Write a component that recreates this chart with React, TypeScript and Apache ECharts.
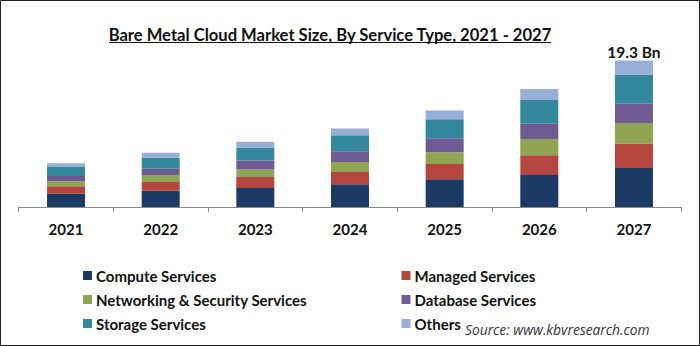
import React, { useEffect, useRef } from "react";
import * as echarts from "echarts";

const years = ["2021", "2022", "2023", "2024", "2025", "2026", "2027"];
const compute = [1.76, 2.15, 2.51, 3.0, 3.66, 4.23, 5.16];
const managed = [0.97, 1.15, 1.45, 1.63, 2.02, 2.6, 3.23];
const networking = [0.66, 0.93, 1.0, 1.32, 1.55, 2.15, 2.72];
const database = [0.71, 0.83, 1.19, 1.41, 1.85, 2.04, 2.55];
const storage = [1.19, 1.45, 1.72, 2.12, 2.51, 3.12, 3.84];
const others = [0.48, 0.66, 0.75, 0.89, 1.15, 1.45, 1.85];
const topLabel = "19.3 Bn";

const seriesNames = [
  "Compute Services",
  "Managed Services",
  "Networking & Security Services",
  "Database Services",
  "Storage Services",
  "Others",
];
const seriesData = [compute, managed, networking, database, storage, others];
const colors = ["#1b3a64", "#b5453f", "#8fa552", "#6f5a93", "#33889e", "#97afd6"];

export default function App() {
  const ref = useRef<HTMLDivElement>(null);
  useEffect(() => {
    document.body.style.margin = "0";
    const chart = echarts.init(ref.current!, null, { renderer: "svg" });
    const font = "Lato";
    const series: any[] = seriesNames.map((name, i) => ({
      name,
      type: "bar",
      stack: "total",
      data: seriesData[i],
      barWidth: 38,
      itemStyle: { color: colors[i] },
      label:
        i === seriesNames.length - 1
          ? {
              show: true,
              position: "top",
              distance: 1,
              formatter: (p: any) => (p.dataIndex === years.length - 1 ? topLabel : ""),
              color: "#111",
              fontFamily: font,
              fontWeight: "bold",
              fontSize: 15.5,
            }
          : { show: false },
    }));
    const legendCommon = {
      orient: "vertical",
      icon: "rect",
      itemWidth: 9,
      itemHeight: 9,
      itemGap: 9,
      selectedMode: false,
      textStyle: {
        fontFamily: font,
        fontWeight: "bold",
        fontSize: 15,
        lineHeight: 15,
        color: "#111",
        padding: [0, 0, 0, -1],
      },
      padding: 0,
    };
    chart.setOption({
      animation: false,
      backgroundColor: "#fff",
      grid: { left: 18.7, right: 18.7, top: 55.7, bottom: 139 },
      xAxis: {
        type: "category",
        data: years,
        axisLine: { lineStyle: { color: "#8a8a8a", width: 1 } },
        axisTick: { show: true, length: 5, lineStyle: { color: "#8a8a8a" } },
        axisLabel: {
          margin: 14,
          fontFamily: font,
          fontWeight: "bold",
          fontSize: 15,
          color: "#111",
        },
      },
      yAxis: { type: "value", min: 0, max: 20, show: false, splitLine: { show: false } },
      legend: [
        { ...legendCommon, left: 83, top: 268, data: [seriesNames[0], seriesNames[2], seriesNames[4]] },
        { ...legendCommon, left: 401.5, top: 268, data: [seriesNames[1], seriesNames[3], seriesNames[5]] },
      ],
      graphic: [
        {
          type: "rect",
          shape: { x: 0.5, y: 0.5, width: 699, height: 345 },
          style: { fill: "none", stroke: "#222", lineWidth: 1 },
          silent: true,
        },
        {
          type: "text",
          x: 330,
          y: 35,
          style: {
            text: "Bare Metal Cloud Market Size, By Service Type, 2021 - 2027",
            fontFamily: font,
            fontWeight: "bold",
            fontSize: 16.6,
            fill: "#111",
            align: "center",
            verticalAlign: "middle",
          },
        },
        {
          type: "line",
          shape: { x1: 109, y1: 42.5, x2: 551, y2: 42.5 },
          style: { stroke: "#111", lineWidth: 1 },
        },
        {
          type: "text",
          x: 465,
          y: 329,
          style: {
            text: "Source: www.kbvresearch.com",
            fontFamily: "Open Sans",
            fontStyle: "italic",
            fontSize: 13.8,
            fill: "#333",
            align: "left",
            verticalAlign: "middle",
          },
        },
      ],
      series,
    });
    return () => chart.dispose();
  }, []);
  return <div ref={ref} style={{ width: 700, height: 346 }} />;
}
